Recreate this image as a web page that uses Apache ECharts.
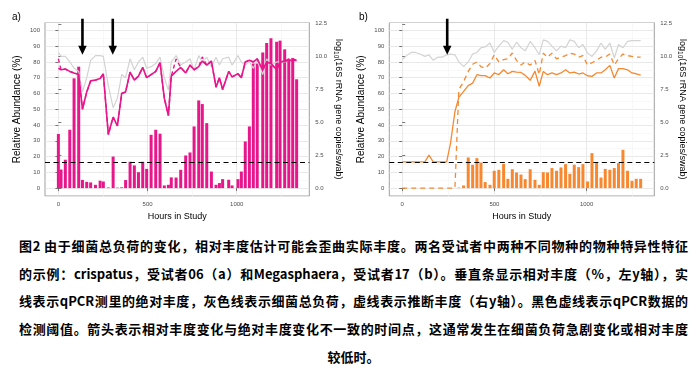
<!DOCTYPE html>
<html>
<head>
<meta charset="utf-8">
<script src="https://cdn.jsdelivr.net/npm/echarts@6/dist/echarts.min.js"></script>
<style>
html,body{margin:0;padding:0;background:#fff;width:699px;height:380px;overflow:hidden;}
#chart{position:absolute;left:0;top:0;width:699px;height:232px;}
#cap{position:absolute;left:19px;top:232px;width:669px;font-family:"Noto Sans CJK SC",sans-serif;font-weight:bold;font-size:13px;line-height:27.7px;color:#000;}
#cap .l{text-align:justify;text-align-last:justify;white-space:nowrap;}
#cap .c{text-align:center;}
</style>
</head>
<body>
<div id="chart"></div>
<div id="cap">
<div class="l">图2 由于细菌总负荷的变化，相对丰度估计可能会歪曲实际丰度。两名受试者中两种不同物种的物种特异性特征</div>
<div class="l">的示例：crispatus，受试者06（a）和Megasphaera，受试者17（b）。垂直条显示相对丰度（%，左y轴），实</div>
<div class="l">线表示qPCR测里的绝对丰度，灰色线表示细菌总负荷，虚线表示推断丰度（右y轴）。黑色虚线表示qPCR数据的</div>
<div class="l">检测阈值。箭头表示相对丰度变化与绝对丰度变化不一致的时间点，这通常发生在细菌负荷急剧变化或相对丰度</div>
<div class="c">较低时。</div>
</div>
<script>
// ---------- data: panel a (crispatus, subject 06) ----------
const hoursA = [0,15,39,64,88,114,135,159,181,208,234,252,280,307,331,355,377,402,426,449,473,495,520,546,570,594,617,633,660,686,714,738,761,787,807,832,858,884,903,921,955,974,1007,1026,1048,1071,1093,1115,1146,1168,1192,1224,1243,1269,1292,1314,1336];
const relA = [34.3,11.8,18,37,69.6,77,5.2,4,3.6,2.1,4.7,4.2,0.4,20,0.3,0.5,5.1,16.7,14.4,10.1,16.7,12.2,33.8,37,34.5,1.7,2.1,6.8,6.7,11.6,20.7,22.6,39.1,55.6,53.3,41.2,10.5,2.1,3.2,5.7,5.3,1.7,5.7,10.5,29.6,39.1,79,79,86,92,95,92.8,93.5,88,82,82.5,69];
const loadA = [10.32,10.02,10.02,9.6,9.12,8.88,7.32,8.4,9.72,10.08,10.08,10.02,7.8,6.12,6.84,8.64,8.4,9.84,9.0,9.6,9.96,9.12,9.24,9.48,9.96,8.4,7.44,9.6,10.08,9.36,9.6,9.84,9.0,10.08,9.6,9.96,9.24,9.96,9.36,9.84,9.96,9.36,10.08,9.6,9.36,9.6,9.12,9.72,8.64,9.84,9.36,9.6,9.6,9.6,9.72,9.72,9.72];
const qpcrA = [9.12,9.0,9.06,8.88,8.76,8.64,6.0,7.32,8.16,8.22,8.34,8.7,4.08,5.4,4.74,7.2,7.32,8.82,8.22,8.52,9.18,8.4,8.64,8.88,9.54,6.84,5.52,8.52,8.88,9.18,8.76,9.36,9.0,9.24,9.66,9.36,9.66,7.68,8.4,7.5,8.88,8.46,8.7,8.4,9.6,9.72,9.6,9.84,9.0,9.6,9.48,9.0,9.6,9.66,9.72,9.72,9.72];
const inferA = [9.84,9.0,9.06,8.88,8.76,8.64,6.0,7.32,8.16,8.22,8.34,8.7,4.08,5.4,4.74,7.2,7.32,8.82,8.22,8.52,9.18,8.4,8.64,8.88,9.54,6.84,5.52,8.52,9.82,9.18,8.76,9.36,9.0,9.24,9.98,9.36,9.66,7.68,8.4,7.5,8.88,8.46,8.7,8.4,9.6,9.72,9.6,9.84,9.0,9.6,9.48,9.0,9.6,9.66,9.82,9.8,9.75];
const arrowsA = [135, 305];

// ---------- data: panel b (Megasphaera, subject 17) ----------
const hoursB = [0,24,48,72,96,123,145,168,192,216,241,262,286,307,333,358,382,405,427,450,476,499,524,550,573,597,620,644,667,694,720,743,765,788,812,837,861,886,909,933,957,980,1005,1029,1054,1078,1101,1126,1150,1173,1197,1222,1246,1269,1293];
const relB = [0,0,0,0,0,0,0,0,0,0,0,0,0,0.3,1.7,19.4,14.8,19,16.2,3.8,2.1,11,11.6,15.4,5.9,12,9.9,8.6,5.7,12,5.3,2.1,10.1,9.9,12.7,11,13.1,15.2,9.1,14.8,13.3,15.2,4.2,22.2,15.9,6.7,12.2,11.6,12.7,15.9,24.3,11,4.6,5.9,5.9];
const loadB = [9.78,10.08,10.32,10.32,10.2,10.02,10.14,9.72,9.96,9.96,10.14,10.2,10.14,9.6,9.24,9.6,10.2,10.32,10.68,10.74,11.04,10.32,10.8,11.22,11.1,10.56,11.1,10.68,10.44,11.16,10.68,10.15,11.28,11.16,10.8,10.44,10.8,10.68,11.28,11.16,10.68,10.92,10.27,10.02,10.44,11.04,10.56,11.04,9.9,10.92,10.68,11.16,11.22,11.22,11.22];
const qpcrB = [2,2,2,2,2,2,2.52,2,2,2,2,3.42,5.83,6.9,7.36,7.8,7.99,8.63,8.56,8.56,8.38,8.76,8.64,9.0,8.7,8.88,8.82,8.8,8.58,8.2,8.9,7.75,8.88,8.63,8.76,8.63,8.76,9.0,8.76,8.83,8.68,8.76,8.55,8.5,8.76,8.76,9.0,9.34,8.38,9.09,9.09,9.0,8.76,8.7,8.6];
const inferB = [0,0,0,0,0,0,0,0,0,0,0,0,0,7.49,8.1,8.88,9.42,9.6,9.24,9.12,9.48,10.15,9.6,9.77,9.84,10.28,9.72,9.36,9.6,9.36,9.72,8.64,10.27,9.96,10.27,9.84,9.96,10.08,10.27,10.2,9.96,10.08,9.36,9.54,9.72,9.96,9.96,10.2,9.36,9.84,10.2,10.08,10.02,9.96,9.96];
const arrowsB = [244];

// ---------- axis ticks / reference values ----------
const leftTicks = [0,10,20,30,40,50,60,70,80,90,100];
const rightTicks = [0,2.5,5,7.5,10,12.5];
const xTicks = [0,500,1000];
const xMinorTicks = [250,750,1250];
const detection = 2.0;

// ---------- styling ----------
const FONT = '"Liberation Sans", Arial, sans-serif';
const PINK = '#E8168B';
const ORANGE = '#F7882F';
const GREY = '#D3D3D3';
const TICKCOL = '#555';
const LABCOL = '#4D4D4D';
const MAJOR = '#E6E6E6';
const MINOR = '#F3F3F3';

const pair = (xs, ys) => xs.map((x, i) => [x, ys[i]]);

function mainX(gi, min, max) {
  return {
    type: 'value', gridIndex: gi, min: min, max: max,
    name: 'Hours in Study', nameLocation: 'middle', nameGap: 16,
    nameTextStyle: {fontSize: 9, color: '#000', fontFamily: FONT},
    axisLine: {show: false},
    axisTick: {show: true, length: 3, customValues: xTicks, lineStyle: {color: TICKCOL, width: 0.8}},
    axisLabel: {customValues: xTicks, formatter: v => String(v), fontSize: 6, color: LABCOL, margin: 5, fontFamily: FONT},
    splitLine: {show: true, lineStyle: {color: MAJOR, width: 0.9}}
  };
}
function minorX(gi, min, max) {
  return {
    type: 'value', gridIndex: gi, min: min, max: max,
    axisLine: {show: false},
    axisTick: {show: false, customValues: xMinorTicks},
    axisLabel: {show: false, customValues: xMinorTicks},
    splitLine: {show: true, lineStyle: {color: MINOR, width: 0.6}}
  };
}
function leftY(gi) {
  return {
    type: 'value', gridIndex: gi, min: -5, max: 105, position: 'left',
    name: 'Relative Abundance (%)', nameLocation: 'middle', nameRotate: 90, nameGap: 23,
    nameTextStyle: {fontSize: 10, color: '#000', fontFamily: FONT},
    axisLine: {show: false},
    axisTick: {show: true, length: 3, customValues: leftTicks, lineStyle: {color: TICKCOL, width: 0.8}},
    axisLabel: {customValues: leftTicks, formatter: v => String(v), fontSize: 6, color: LABCOL, margin: 5, fontFamily: FONT},
    splitLine: {show: true, lineStyle: {color: MAJOR, width: 0.9}}
  };
}
function minorY(gi) {
  return {
    type: 'value', gridIndex: gi, min: -5, max: 105, interval: 10, position: 'left',
    axisLine: {show: false}, axisTick: {show: false}, axisLabel: {show: false},
    splitLine: {show: true, lineStyle: {color: MINOR, width: 0.6}}
  };
}
function rightY(gi, gap) {
  return {
    type: 'value', gridIndex: gi, min: -0.6, max: 12.6, position: 'right',
    name: '{n|log}{s|10}{n|(16S rRNA gene copies/swab)}',
    nameLocation: 'middle', nameRotate: -90, nameGap: gap,
    nameTextStyle: {fontSize: 9, color: '#000', fontFamily: FONT,
      rich: {n: {fontSize: 9, lineHeight: 13, verticalAlign: 'middle', fontFamily: FONT, color: '#000'},
             s: {fontSize: 6.5, lineHeight: 13, verticalAlign: 'bottom', fontFamily: FONT, color: '#000'}}},
    axisLine: {show: false},
    axisTick: {show: true, length: 3, customValues: rightTicks, lineStyle: {color: TICKCOL, width: 0.8}},
    axisLabel: {customValues: rightTicks, formatter: v => Number(v).toFixed(1), fontSize: 6, color: LABCOL, margin: 6, fontFamily: FONT},
    splitLine: {show: false}
  };
}
// arrows: drawn through the axes' own scales (tip at 84.6 %, shaft starting above the panel)
function arrowSeries(xi, yi, hours) {
  return {
    type: 'custom', xAxisIndex: xi, yAxisIndex: yi, clip: false, silent: true, z: 10,
    data: hours.map(h => [h, 84.6]),
    renderItem: function (params, api) {
      const tip = api.coord([api.value(0), api.value(1)]);
      const top = api.coord([api.value(0), 107.4]);
      const headH = 9, headW = 8.5;
      return {
        type: 'group',
        children: [
          {type: 'line', shape: {x1: top[0], y1: top[1], x2: tip[0], y2: tip[1] - headH + 1}, style: {stroke: '#000', lineWidth: 2.6}},
          {type: 'polygon', shape: {points: [[tip[0] - headW / 2, tip[1] - headH], [tip[0] + headW / 2, tip[1] - headH], [tip[0], tip[1]]]}, style: {fill: '#000'}}
        ]
      };
    }
  };
}
function thresholdMark() {
  return {
    silent: true, animation: false, symbol: 'none',
    label: {show: false},
    lineStyle: {color: '#000', width: 1.2, type: [5, 3.5], opacity: 1},
    emphasis: {disabled: true},
    data: [{yAxis: detection}]
  };
}

const chart = echarts.init(document.getElementById('chart'), null, {renderer: 'canvas'});
chart.setOption({
  animation: false,
  backgroundColor: '#fff',
  textStyle: {fontFamily: FONT},
  title: [
    {text: 'a)', left: 12, top: 12, padding: 0, textStyle: {fontSize: 10, fontWeight: 'normal', color: '#000', fontFamily: FONT}},
    {text: 'b)', left: 359, top: 12, padding: 0, textStyle: {fontSize: 10, fontWeight: 'normal', color: '#000', fontFamily: FONT}}
  ],
  grid: [
    {left: 45, top: 22.5, width: 264.3, height: 173.5, show: true, borderColor: '#9E9E9E', borderWidth: 1, backgroundColor: '#fff', containLabel: false},
    {left: 389.3, top: 22.5, width: 265, height: 173.5, show: true, borderColor: '#9E9E9E', borderWidth: 1, backgroundColor: '#fff', containLabel: false}
  ],
  xAxis: [mainX(0, -75, 1407), minorX(0, -75, 1407), mainX(1, -70, 1367), minorX(1, -70, 1367)],
  yAxis: [leftY(0), rightY(0, 23), minorY(0), leftY(1), rightY(1, 22), minorY(1)],
  series: [
    {type: 'bar', xAxisIndex: 0, yAxisIndex: 0, data: pair(hoursA, relA), barWidth: 3, itemStyle: {color: PINK}, z: 2},
    {type: 'line', xAxisIndex: 0, yAxisIndex: 1, data: pair(hoursA, loadA), symbol: 'none', lineStyle: {color: GREY, width: 1.2}, z: 3},
    {type: 'line', xAxisIndex: 0, yAxisIndex: 1, data: pair(hoursA, qpcrA), symbol: 'none', lineStyle: {color: PINK, width: 1.6}, markLine: thresholdMark(), z: 4},
    {type: 'line', xAxisIndex: 0, yAxisIndex: 1, data: pair(hoursA, inferA), symbol: 'none', lineStyle: {color: PINK, width: 1.4, type: [4, 3]}, z: 4},
    arrowSeries(0, 0, arrowsA),

    {type: 'bar', xAxisIndex: 2, yAxisIndex: 3, data: pair(hoursB, relB), barWidth: 3, itemStyle: {color: ORANGE}, z: 2},
    {type: 'line', xAxisIndex: 2, yAxisIndex: 4, data: pair(hoursB, loadB), symbol: 'none', lineStyle: {color: GREY, width: 1.2}, z: 3},
    {type: 'line', xAxisIndex: 2, yAxisIndex: 4, data: pair(hoursB, qpcrB), symbol: 'none', lineStyle: {color: ORANGE, width: 1.3}, markLine: thresholdMark(), z: 4},
    {type: 'line', xAxisIndex: 2, yAxisIndex: 4, data: pair(hoursB, inferB), symbol: 'none', lineStyle: {color: ORANGE, width: 1.3, type: [5, 4]}, z: 4},
    arrowSeries(2, 3, arrowsB)
  ]
});
</script>
</body>
</html>
